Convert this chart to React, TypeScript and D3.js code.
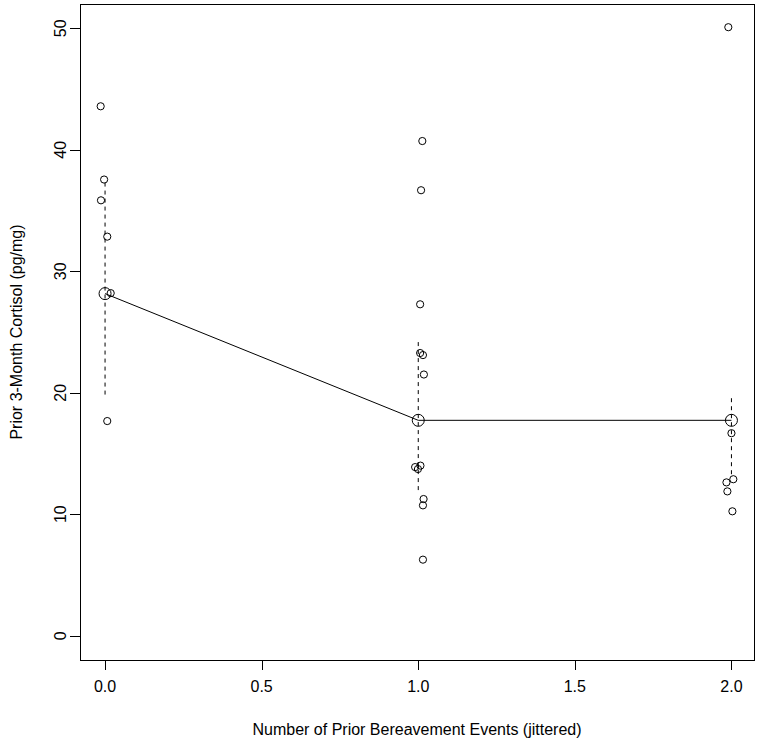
import * as d3 from "d3";

// observed values: [jittered x, cortisol]
const group0X = [-0.014, -0.003, -0.013, 0.007, 0.018, 0.007];
const group0Y = [43.58, 37.55, 35.84, 32.85, 28.2, 17.67];
const group1X = [1.013, 1.009, 1.006, 1.006, 1.015, 1.018, 0.99, 0.999, 1.007, 1.017, 1.015, 1.015];
const group1Y = [40.72, 36.67, 27.28, 23.27, 23.1, 21.5, 13.88, 13.72, 14.0, 11.25, 10.73, 6.26];
const group2X = [1.99, 2.0, 2.006, 1.984, 1.987, 2.003];
const group2Y = [50.09, 16.67, 12.88, 12.62, 11.88, 10.24];

// estimated means and interval ends per bereavement count
const levels = [0, 1, 2];
const means = [28.16, 17.73, 17.73];
const upper = [37.3, 24.17, 19.55];
const lower = [19.65, 11.72, 13.2];

const xTicks = [0, 0.5, 1, 1.5, 2];
const yTicks = [0, 10, 20, 30, 40, 50];

const W = 760;
const H = 743;
const box = { left: 80, right: 754, top: 4, bottom: 660 };
const FONT = "'Liberation Sans', Arial, sans-serif";
const FS = 16;

export default function App() {
  const x = d3.scaleLinear().domain([-0.08, 2.072]).range([box.left, box.right]);
  const y = d3.scaleLinear().domain([-2, 52]).range([box.bottom, box.top]);

  const points = [
    ...group0X.map((v, i) => [v, group0Y[i]]),
    ...group1X.map((v, i) => [v, group1Y[i]]),
    ...group2X.map((v, i) => [v, group2Y[i]]),
  ];

  const meanLine = d3.line<number>()
    .x((_, i) => x(levels[i]))
    .y((d) => y(d));

  return (
    <svg
      width={W}
      height={H}
      style={{ position: "absolute", left: 0, top: 0, background: "#fff" }}
      fontFamily={FONT}
    >
      <rect x={0} y={0} width={W} height={H} fill="#fff" />

      {/* interval bars */}
      {levels.map((l, i) => (
        <line key={`iv${i}`}
          x1={x(l)} x2={x(l)} y1={y(upper[i])} y2={y(lower[i])}
          stroke="#000" strokeWidth={1} strokeDasharray="4 4" />
      ))}

      {/* mean line */}
      <path d={meanLine(means) ?? ""} fill="none" stroke="#000" strokeWidth={1} />

      {/* observations */}
      {points.map((p, i) => (
        <circle key={`p${i}`} cx={x(p[0])} cy={y(p[1])} r={3.6}
          fill="none" stroke="#000" strokeWidth={1} />
      ))}

      {/* means */}
      {levels.map((l, i) => (
        <circle key={`m${i}`} cx={x(l)} cy={y(means[i])} r={6}
          fill="none" stroke="#000" strokeWidth={1} />
      ))}

      {/* box */}
      <rect x={box.left + 0.5} y={box.top + 0.5}
        width={box.right - box.left} height={box.bottom - box.top}
        fill="none" stroke="#000" strokeWidth={1} />

      {/* x axis */}
      {xTicks.map((t) => (
        <g key={`xt${t}`}>
          <line x1={Math.round(x(t)) + 0.5} x2={Math.round(x(t)) + 0.5}
            y1={box.bottom} y2={box.bottom + 10} stroke="#000" />
          <text x={x(t)} y={box.bottom + 32} fontSize={FS} textAnchor="middle">
            {d3.format(".1f")(t)}
          </text>
        </g>
      ))}
      <text x={(box.left + box.right) / 2} y={735} fontSize={FS} textAnchor="middle">
        Number of Prior Bereavement Events (jittered)
      </text>

      {/* y axis */}
      {yTicks.map((t) => (
        <g key={`yt${t}`}>
          <line x1={box.left - 10} x2={box.left}
            y1={Math.round(y(t)) + 0.5} y2={Math.round(y(t)) + 0.5} stroke="#000" />
          <text transform={`translate(${box.left - 14},${y(t)}) rotate(-90)`}
            fontSize={FS} textAnchor="middle">
            {t}
          </text>
        </g>
      ))}
      <text transform={`translate(22,${(box.top + box.bottom) / 2}) rotate(-90)`}
        fontSize={FS} textAnchor="middle">
        Prior 3-Month Cortisol (pg/mg)
      </text>
    </svg>
  );
}
